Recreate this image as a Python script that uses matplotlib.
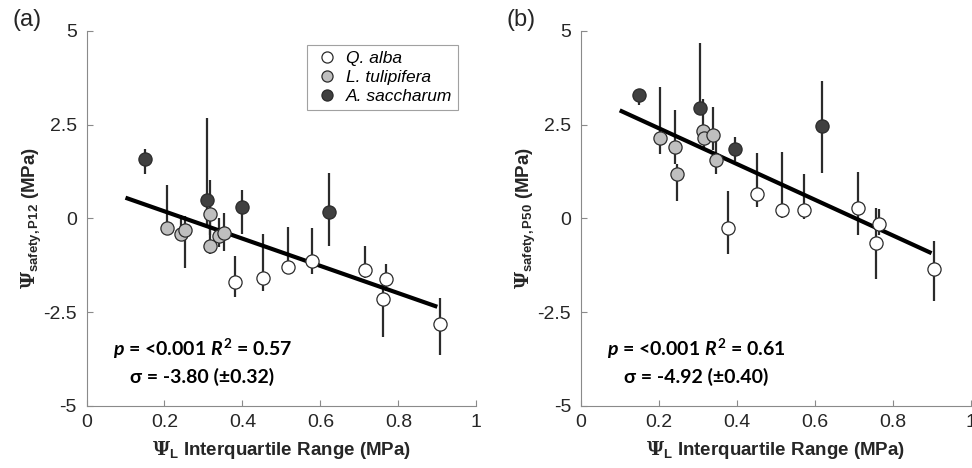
import matplotlib
matplotlib.use("Agg")
import matplotlib.pyplot as plt
from matplotlib.lines import Line2D

plt.rcParams['axes.unicode_minus'] = False
plt.rcParams['font.family'] = ['Liberation Sans', 'DejaVu Sans']
plt.rcParams['mathtext.fontset'] = 'custom'
plt.rcParams['mathtext.rm'] = 'DejaVu Serif:bold'
plt.rcParams['mathtext.sf'] = 'Liberation Sans:bold'
plt.rcParams['mathtext.it'] = 'Lato:bold:italic'
plt.rcParams['mathtext.bf'] = 'Lato:bold'

species = ["Q. alba", "L. tulipifera", "A. saccharum"]
face_colors = ["white", "#bfbfbf", "#404040"]

# panel (a) : Psi safety P12
a_alba_x = [0.381, 0.453, 0.516, 0.578, 0.714, 0.768, 0.761, 0.908]
a_alba_y = [-1.71, -1.60, -1.31, -1.15, -1.38, -1.61, -2.16, -2.81]
a_alba_lo = [-2.11, -1.93, -1.45, -1.49, -1.58, -1.93, -3.16, -3.65]
a_alba_hi = [-1.00, -0.43, -0.24, -0.26, -0.74, -1.22, -1.75, -2.13]

a_tuli_x = [0.207, 0.243, 0.252, 0.318, 0.318, 0.339, 0.352]
a_tuli_y = [-0.25, -0.42, -0.30, 0.12, -0.75, -0.46, -0.39]
a_tuli_lo = [-0.35, -0.55, -1.32, -0.45, -0.95, -0.77, -0.86]
a_tuli_hi = [0.90, 0.10, 0.07, 1.03, 0.05, 0.01, 0.13]

a_sacc_x = [0.151, 0.308, 0.399, 0.622]
a_sacc_y = [1.57, 0.49, 0.29, 0.18]
a_sacc_lo = [1.17, -0.20, -0.41, -0.75]
a_sacc_hi = [1.84, 2.68, 0.76, 1.21]

# panel (b) : Psi safety P50
b_alba_x = [0.379, 0.452, 0.515, 0.574, 0.712, 0.765, 0.758, 0.906]
b_alba_y = [-0.27, 0.65, 0.23, 0.21, 0.28, -0.15, -0.67, -1.35]
b_alba_lo = [-0.94, 0.29, 0.01, -0.02, -0.44, -0.45, -1.62, -2.20]
b_alba_hi = [0.72, 1.74, 1.76, 1.17, 1.23, 0.25, 0.28, -0.61]

b_tuli_x = [0.204, 0.241, 0.247, 0.314, 0.316, 0.340, 0.348]
b_tuli_y = [2.14, 1.90, 1.19, 2.32, 2.14, 2.21, 1.56]
b_tuli_lo = [1.72, 1.46, 0.47, 1.95, 1.85, 1.83, 1.17]
b_tuli_hi = [3.49, 2.90, 1.44, 3.17, 2.45, 2.97, 2.06]

b_sacc_x = [0.149, 0.305, 0.395, 0.618]
b_sacc_y = [3.30, 2.95, 1.86, 2.45]
b_sacc_lo = [3.01, 2.75, 1.54, 1.21]
b_sacc_hi = [3.40, 4.69, 2.18, 3.65]

fit_x = [0.1, 0.9]
fit_a = [0.55, -2.36]
fit_b = [2.88, -0.93]

stats_a = [r"$p$ = <0.001 $R^{\mathbf{2}}$ = 0.57", "\u03c3 = -3.80 (\u00b10.32)"]
stats_b = [r"$p$ = <0.001 $R^{\mathbf{2}}$ = 0.61", "\u03c3 = -4.92 (\u00b10.40)"]

yticks = [-5, -2.5, 0, 2.5, 5]
ytick_labels = ["-5", "-2.5", "0", "2.5", "5"]
xticks = [0, 0.2, 0.4, 0.6, 0.8, 1]
xtick_labels = ["0", "0.2", "0.4", "0.6", "0.8", "1"]


def draw_panel(ax, groups, fit_y, stats, ylab, tag):
    for (x, y, lo, hi), fc in zip(groups, face_colors):
        err = [[yy - l for yy, l in zip(y, lo)], [h - yy for yy, h in zip(y, hi)]]
        ax.errorbar(x, y, yerr=err, fmt='none', ecolor='#2b2b2b', elinewidth=1.6,
                    capsize=0, zorder=2)
    ax.plot(fit_x, fit_y, color='black', lw=3, zorder=3, solid_capstyle='butt')
    for (x, y, lo, hi), fc in zip(groups, face_colors):
        ax.plot(x, y, 'o', ms=9.5, mfc=fc, mec='#2b2b2b', mew=0.9, ls='none', zorder=4)

    ax.set_xlim(0, 1)
    ax.set_ylim(-5, 5)
    ax.set_xticks(xticks)
    ax.set_xticklabels(xtick_labels)
    ax.set_yticks(yticks)
    ax.set_yticklabels(ytick_labels)
    for s in ['top', 'right']:
        ax.spines[s].set_visible(False)
    for s in ['left', 'bottom']:
        ax.spines[s].set_color('#8a8a8a')
        ax.spines[s].set_linewidth(0.8)
    ax.tick_params(direction='in', length=4, width=0.8, color='#8a8a8a',
                   labelsize=14, labelcolor='#262626')
    ax.tick_params(axis='x', pad=6)
    ax.tick_params(axis='y', pad=7)

    ax.set_xlabel(r"$\Psi_{\mathsf{L}}$ Interquartile Range (MPa)", fontsize=13.5,
                  fontweight='bold', color='#262626')
    ax.xaxis.set_label_coords(0.5, -0.09)
    ax.set_ylabel(ylab, fontsize=13.5, fontweight='bold', color='#262626')
    ax.yaxis.set_label_coords(-0.11, 0.5)

    ax.text(0.297, 0.151, stats[0], transform=ax.transAxes, ha='center', va='center',
            fontsize=14, fontweight='bold', family=['Lato', 'DejaVu Sans'])
    ax.text(0.297, 0.077, stats[1], transform=ax.transAxes, ha='center', va='center',
            fontsize=14, fontweight='bold', family=['Lato', 'DejaVu Sans'])
    ax.text(-0.19, 1.03, tag, transform=ax.transAxes, ha='left', va='center',
            fontsize=17, color='#262626')


fig = plt.figure(figsize=(9.72, 4.68), dpi=100)
ax1 = fig.add_axes([0.089, 0.133, 0.401, 0.801])
ax2 = fig.add_axes([0.5975, 0.133, 0.401, 0.801])

groups_a = [(a_alba_x, a_alba_y, a_alba_lo, a_alba_hi),
            (a_tuli_x, a_tuli_y, a_tuli_lo, a_tuli_hi),
            (a_sacc_x, a_sacc_y, a_sacc_lo, a_sacc_hi)]
groups_b = [(b_alba_x, b_alba_y, b_alba_lo, b_alba_hi),
            (b_tuli_x, b_tuli_y, b_tuli_lo, b_tuli_hi),
            (b_sacc_x, b_sacc_y, b_sacc_lo, b_sacc_hi)]

draw_panel(ax1, groups_a, fit_a, stats_a, r"$\Psi_{\mathsf{safety,P12}}$ (MPa)", "(a)")
draw_panel(ax2, groups_b, fit_b, stats_b, r"$\Psi_{\mathsf{safety,P50}}$ (MPa)", "(b)")

handles = [Line2D([], [], marker='o', ls='none', ms=8, mfc=fc, mec='#2b2b2b', mew=0.9)
           for fc in face_colors]
leg = ax1.legend(handles, species, loc='upper right', bbox_to_anchor=(0.954, 0.962),
                 borderaxespad=0, frameon=True, fancybox=False, prop={'style': 'italic', 'size': 12.5},
                 handletextpad=0.3, labelspacing=0.2, borderpad=0.35, handlelength=1.6)
leg.get_frame().set_edgecolor('#8a8a8a')
leg.get_frame().set_linewidth(0.8)

fig.savefig("out.png", dpi=100)
